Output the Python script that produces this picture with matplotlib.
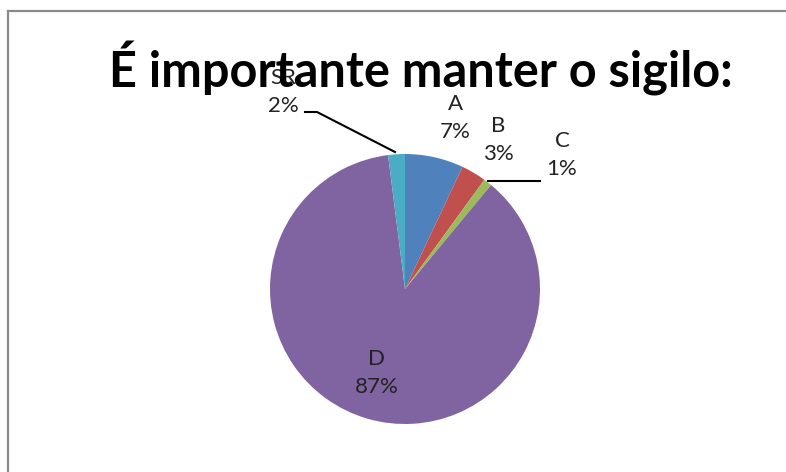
import matplotlib
matplotlib.use("Agg")
import matplotlib.pyplot as plt
from matplotlib.lines import Line2D
import numpy as np

categories = ["A", "B", "C", "D", "SR"]
values = [7, 3, 1, 87, 2]
colors = ["#4F81BD", "#C0504D", "#9BBB59", "#8064A2", "#4BACC6"]
title = "É importante manter o sigilo:"

W, H = 786, 472
fig = plt.figure(figsize=(W / 100, H / 100), dpi=100)
plt.rcParams['font.family'] = ['Lato', 'DejaVu Sans']

# frame
fig.add_artist(Line2D([8 / W, 8 / W], [0, 1 - 11 / H], color="#8a8a8a", lw=1.6, transform=fig.transFigure))
fig.add_artist(Line2D([8 / W, 1], [1 - 11 / H, 1 - 11 / H], color="#8a8a8a", lw=1.6, transform=fig.transFigure))

cx, cy, r = 405, 289, 135
ax = fig.add_axes([(cx - r) / W, (H - cy - r) / H, 2 * r / W, 2 * r / H])
ax.pie(values, colors=colors, startangle=90, counterclock=False, radius=1,
       wedgeprops=dict(linewidth=0))
ax.set_xlim(-1, 1)
ax.set_ylim(-1, 1)
ax.set_aspect("equal")
ax.axis("off")

def d(px, py):
    return (px - cx) / r, (cy - py) / r

label_pos = {"A": (455, 118), "B": (498, 140), "C": (562, 155), "D": (377, 373), "SR": (283, 92)}
for cat, v in zip(categories, values):
    x, y = d(*label_pos[cat])
    ax.text(x, y, f"{cat}\n{v}%", ha="center", va="center", fontsize=16,
            linespacing=1.45, color="#222222", clip_on=False, zorder=1)

# leader lines
pts = [d(488, 181), d(540, 181)]
ax.add_line(Line2D([p[0] for p in pts], [p[1] for p in pts], color="black", lw=1.5, clip_on=False))
pts = [d(305, 112), d(317, 112), d(395, 152)]
ax.add_line(Line2D([p[0] for p in pts], [p[1] for p in pts], color="black", lw=1.5, clip_on=False))

fig.text(421 / W, 1 - 68 / H, title, ha="center", va="center", fontsize=35,
         fontweight="bold", color="black", zorder=5)

fig.savefig("out.png", dpi=100, facecolor="white")
